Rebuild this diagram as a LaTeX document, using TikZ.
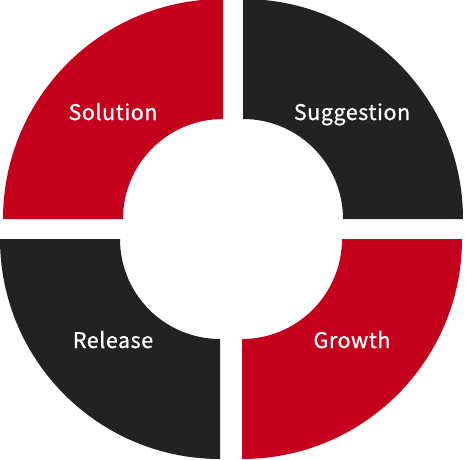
\documentclass[tikz,border=0pt]{standalone}
\usepackage{fontspec}
\newfontfamily\labfont{Noto Sans CJK JP}[FakeBold=0.9,LetterSpace=2.5]
\definecolor{segred}{HTML}{C4001D}
\definecolor{segdark}{HTML}{222222}
\begin{document}
\begin{tikzpicture}[x=1pt,y=1pt,
  lab/.style={text=white,font=\labfont\fontsize{21.5}{25}\selectfont,anchor=base,inner sep=0pt}]
\useasboundingbox (0,0) rectangle (466,459);
\clip (0,0) rectangle (466,459);
% top-left
\fill[segred] (3,240) arc[start angle=180,end angle=90,radius=220] -- (223,340) arc[start angle=90,end angle=180,radius=100] -- cycle;
% top-right
\fill[segdark] (243,460) arc[start angle=90,end angle=0,radius=220] -- (343,240) arc[start angle=0,end angle=90,radius=100] -- cycle;
% bottom-left
\fill[segdark] (0,220) arc[start angle=180,end angle=270,radius=220] -- (220,120) arc[start angle=270,end angle=180,radius=100] -- cycle;
% bottom-right
\fill[segred] (462,220) arc[start angle=0,end angle=-90,radius=220] -- (242,120) arc[start angle=-90,end angle=0,radius=100] -- cycle;
\node[lab] (sol) at (113,339) {Solution};
\node[lab] (sug) at (352,339) {Suggestion};
\node[lab] (rel) at (113,111) {Release};
\node[lab] (gro) at (352,111) {Growth};
\end{tikzpicture}
\end{document}
